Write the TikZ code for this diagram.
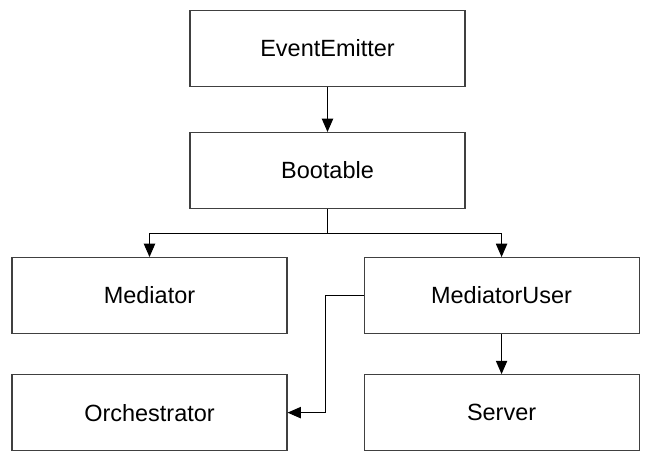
\documentclass[tikz,border=0pt]{standalone}
\usepackage{fontspec}
\setmainfont{Liberation Sans}
\usepackage{tikz}
\usetikzlibrary{arrows.meta, positioning}
\tikzstyle{cls} = [rectangle, draw=black!75, line width=0.8pt, minimum width=206.25pt, minimum height=57pt, text centered, font=\fontsize{17.6}{20}\selectfont]
\tikzstyle{arrow} = [line width=0.8pt, -{Triangle[length=10pt, width=8.5pt]}]

\begin{document}
\begin{tikzpicture}[x=0.75pt, y=-0.75pt]
  \useasboundingbox (0,0) rectangle (655,467);
  \node (bootable) [cls] at (327.5,170.5) {Bootable};
  \node (emitter) [cls, above=33.75pt of bootable] {EventEmitter};
  \node (mediator) [cls, below=36pt of bootable, xshift=-133.5pt] {Mediator};
  \node (mediatoruser) [cls, right=57pt of mediator] {MediatorUser};
  \node (orchestrator) [cls, below=30pt of mediator] {Orchestrator};
  \node (server) [cls, below=30pt of mediatoruser] {Server};

  \draw [arrow] (emitter) -- (bootable);
  \draw [line width=0.8pt] (bootable.south) -- ++(0,24) coordinate (split);
  \draw [arrow] (split) -| (mediator.north);
  \draw [arrow] (split) -| (mediatoruser.north);
  \draw [arrow] (mediatoruser.west) -- ++(-38,0) |- (orchestrator.east);
  \draw [arrow] (mediatoruser) -- (server);

\end{tikzpicture}
\end{document}
